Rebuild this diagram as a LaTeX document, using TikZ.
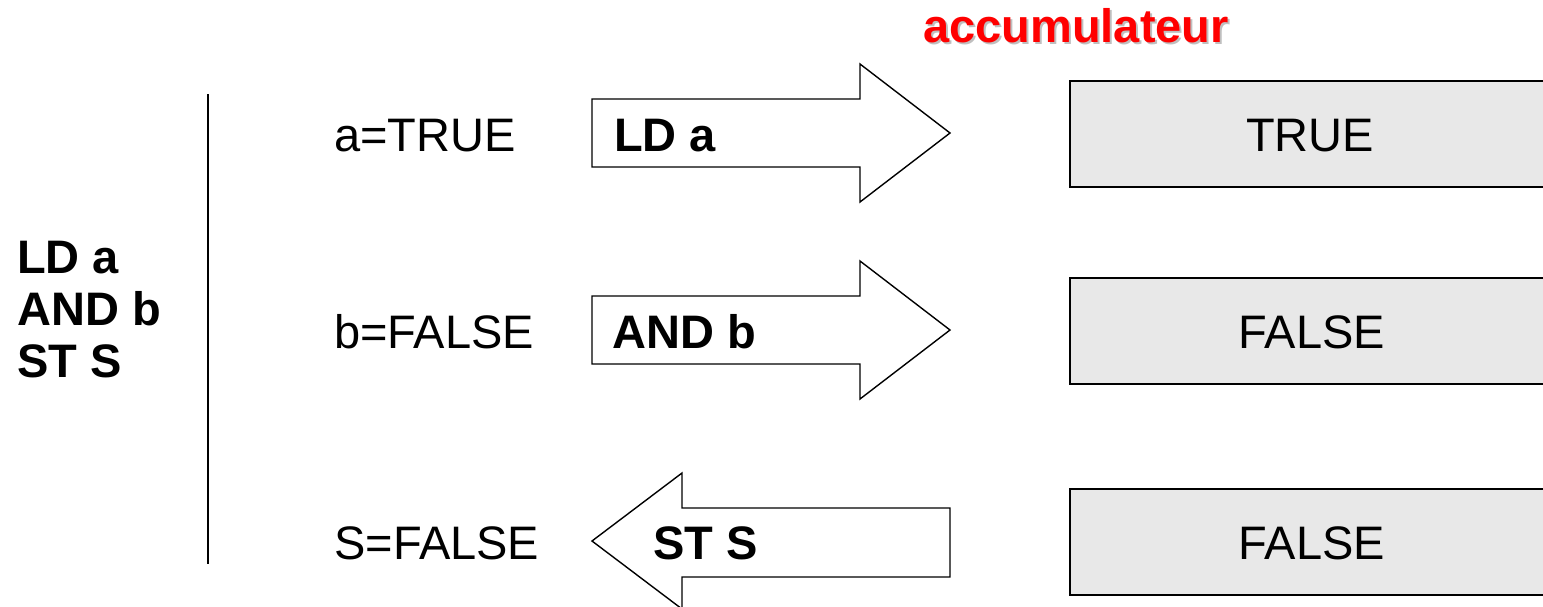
\documentclass[tikz,border=0pt]{standalone}
\usepackage{fontspec}
\setmainfont{Liberation Sans}
\begin{document}
\begin{tikzpicture}[x=1pt,y=-1pt,
  lbl/.style={anchor=base west,inner sep=0pt,font=\fontsize{47}{53}\selectfont},
  blbl/.style={lbl,font=\fontsize{47}{53}\selectfont\bfseries},
  arrowshape/.style={draw=black,line width=1.4pt,fill=white,line join=miter},
  accbox/.style={draw=black,line width=1.6pt,fill=black!9,minimum height=106pt,minimum width=480pt,anchor=north west,inner sep=0pt}
]
\useasboundingbox (0,0) rectangle (1543,606);
% title
\node[blbl,text=black!25,anchor=base] (shadow) at (1078,44) {accumulateur};
\node[blbl,text=red,anchor=base] (title) at (1076,42) {accumulateur};
% left program
\node[blbl] (p1) at (17,273) {LD a};
\node[blbl] (p2) at (17,325) {AND b};
\node[blbl] (p3) at (17,377) {ST S};
\coordinate (vtop) at (208,94);
\coordinate (vbot) at (208,564);
\draw[line width=1.6pt] (vtop) -- (vbot);
% variables
\node[lbl] (va) at (334,151) {a=TRUE};
\node[lbl] (vb) at (334,348) {b=FALSE};
\node[lbl] (vs) at (334,559) {S=FALSE};
% arrows
\draw[arrowshape] (592,99) -- (860,99) -- (860,64) -- (950,133) -- (860,202) -- (860,167) -- (592,167) -- cycle;
\draw[arrowshape] (592,296) -- (860,296) -- (860,261) -- (950,330) -- (860,399) -- (860,364) -- (592,364) -- cycle;
\draw[arrowshape] (950,508) -- (682,508) -- (682,473) -- (592,541) -- (682,609) -- (682,577) -- (950,577) -- cycle;
\node[blbl] (i1) at (614,151) {LD a};
\node[blbl] (i2) at (612,348) {AND b};
\node[blbl] (i3) at (653,559) {ST S};
% accumulator boxes
\node[accbox] (b1) at (1069,80) {};
\node[accbox] (b2) at (1069,277) {};
\node[accbox] (b3) at (1069,488) {};
\node[lbl,anchor=base] (t1) at (1310,151) {TRUE};
\node[lbl,anchor=base] (t2) at (1312,348) {FALSE};
\node[lbl,anchor=base] (t3) at (1312,559) {FALSE};
\end{tikzpicture}
\end{document}
